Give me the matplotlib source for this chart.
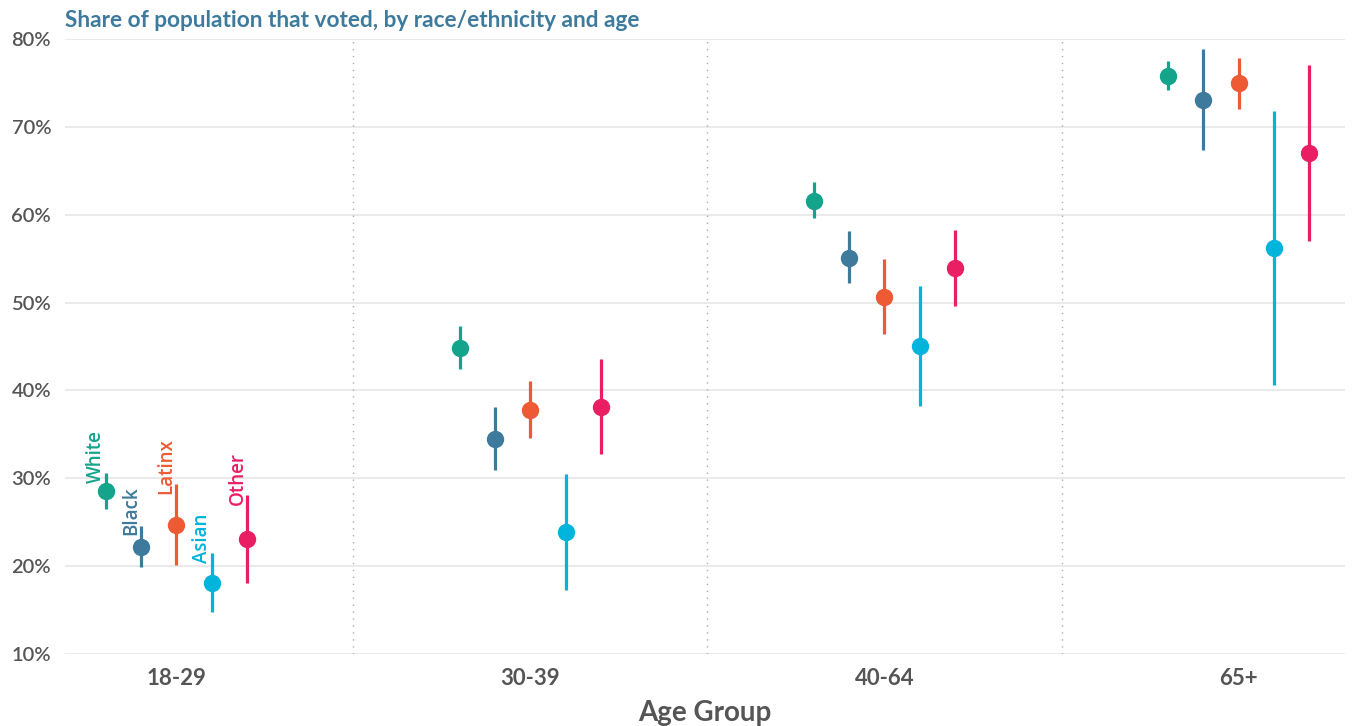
import matplotlib.pyplot as plt
import numpy as np

# age groups and race/ethnicity groups
age_groups = ["18-29", "30-39", "40-64", "65+"]
races = ["White", "Black", "Latinx", "Asian", "Other"]
colors = ["#14a38b", "#3d7a9c", "#ed5a34", "#00b4dc", "#e91e63"]

# share that voted (%), one list per race, by age group
white = [28.5, 44.8, 61.6, 75.8]
black = [22.2, 34.5, 55.1, 73.1]
latinx = [24.7, 37.8, 50.6, 75.0]
asian = [18.1, 23.9, 45.1, 56.2]
other = [23.1, 38.1, 53.9, 67.0]

# interval lows / highs
white_lo = [26.5, 42.4, 59.6, 74.2]
white_hi = [30.6, 47.3, 63.7, 77.5]
black_lo = [19.9, 30.9, 52.2, 67.4]
black_hi = [24.6, 38.1, 58.1, 78.9]
latinx_lo = [20.1, 34.6, 46.4, 72.0]
latinx_hi = [29.3, 41.1, 55.0, 77.8]
asian_lo = [14.8, 17.3, 38.2, 40.6]
asian_hi = [21.5, 30.5, 51.9, 71.8]
other_lo = [18.1, 32.8, 49.6, 57.0]
other_hi = [28.1, 43.6, 58.3, 77.0]

values = [white, black, latinx, asian, other]
lows = [white_lo, black_lo, latinx_lo, asian_lo, other_lo]
highs = [white_hi, black_hi, latinx_hi, asian_hi, other_hi]

plt.rcParams['font.family'] = ['Lato', 'DejaVu Sans']

fig = plt.figure(figsize=(13.57, 7.26), dpi=100)
ax = fig.add_axes([0.048, 0.0992, 0.943, 0.847])

x = np.arange(len(age_groups))
dodge = 0.1

for i, race in enumerate(races):
    xs = x + (i - 2) * dodge
    v = np.array(values[i])
    lo = np.array(lows[i])
    hi = np.array(highs[i])
    ax.vlines(xs, lo, hi, color=colors[i], lw=2.3, zorder=3)
    ax.plot(xs, v, 'o', color=colors[i], ms=11.5, zorder=4)
    # label on the first age group
    ax.annotate(race, (xs[0], hi[0]), xytext=(-7, -7), textcoords='offset points',
                rotation=90, ha='center', va='bottom', color=colors[i],
                fontsize=13.5, fontweight='semibold',
                family=['Open Sans', 'DejaVu Sans'])

# dotted separators between age groups
for s in x[:-1] + 0.5:
    ax.axvline(s, color='#aaaaaa', lw=1, ls=(0, (1, 4)), zorder=1)

ax.set_xlim(-0.314, 3.30)
ax.set_ylim(10, 80)
ax.set_yticks([10, 20, 30, 40, 50, 60, 70, 80])
ax.set_yticklabels([f"{t}%" for t in range(10, 90, 10)], fontsize=14.5,
                   fontweight='semibold')
ax.set_xticks(x)
ax.set_xticklabels(age_groups, fontsize=16, fontweight='bold')
ax.grid(axis='y', color='#e6e6e6', lw=1.2)
ax.set_axisbelow(True)
for sp in ax.spines.values():
    sp.set_visible(False)
ax.tick_params(length=0, colors='#555555')
ax.tick_params(axis='y', pad=10)
ax.tick_params(axis='x', pad=10)

ax.set_xlabel("Age Group", fontsize=20, fontweight='bold', color='#555555', labelpad=8)

fig.text(0.048, 0.972, "Share of population that voted, by race/ethnicity and age",
         fontsize=16.3, fontweight='bold', color='#3d7a9c', va='center', ha='left')

fig.savefig("out.png", dpi=100)
